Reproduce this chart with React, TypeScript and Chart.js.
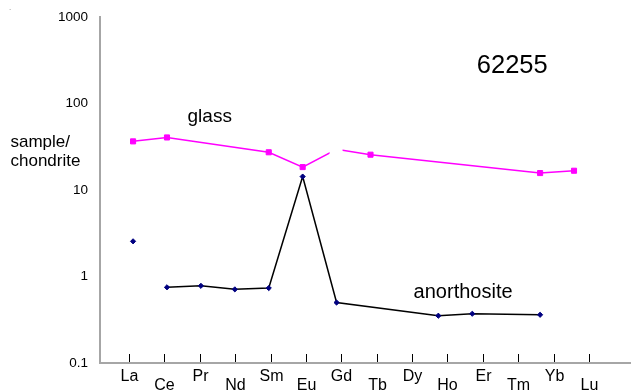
import React, { useEffect, useRef } from 'react';
import { Chart, registerables } from 'chart.js';

Chart.register(...registerables);

const FONT = '"Liberation Sans", Arial, sans-serif';

const elements = ['La', 'Ce', 'Pr', 'Nd', 'Sm', 'Eu', 'Gd', 'Tb', 'Dy', 'Ho', 'Er', 'Tm', 'Yb', 'Lu'];
const glass: (number | null)[] = [36.5, 40.5, null, null, 27.3, 18.4, 29.5, 25.6, null, null, null, null, 15.7, 16.7];
const anorthosite: (number | null)[] = [2.55, 0.75, 0.78, 0.71, 0.735, 14.3, 0.5, null, null, 0.352, 0.371, null, 0.361, null];
const yTicks = [0.1, 1, 10, 100, 1000];
const yTickLabels = ['0.1', '1', '10', '100', '1000'];
const sampleName = '62255';
const yTitle = ['sample/', 'chondrite'];
const glassGapIndex = 6;

const annotate = {
  id: 'annotate',
  afterDatasetsDraw(chart: any) {
    const ctx = chart.ctx;
    const meta = chart.getDatasetMeta(0);
    const p = meta.data[glassGapIndex];
    if (p) {
      ctx.save();
      ctx.fillStyle = '#ffffff';
      ctx.fillRect(p.x - 7, p.y - 6, 13, 12);
      ctx.restore();
    }
  },
  afterDraw(chart: any) {
    const ctx = chart.ctx;
    const xs = chart.scales.x;
    const ys = chart.scales.y;
    const xt = chart.scales.x2;
    const bottom = chart.chartArea.bottom;
    ctx.save();
    ctx.strokeStyle = '#000000';
    ctx.lineWidth = 1;
    ctx.fillStyle = '#000000';
    ctx.font = `16px ${FONT}`;
    ctx.textAlign = 'center';
    ctx.textBaseline = 'alphabetic';
    elements.forEach((el, i) => {
      const x = Math.round(xt.getPixelForValue(i)) + 0.5;
      ctx.beginPath();
      ctx.moveTo(x, bottom - 9);
      ctx.lineTo(x, bottom - 1);
      ctx.stroke();
      ctx.fillText(el, x, bottom + (i % 2 === 0 ? 18 : 26.5));
    });
    ctx.font = `19px ${FONT}`;
    ctx.fillText('glass', xs.getPixelForValue(2.26), ys.getPixelForValue(61.6));
    ctx.font = `20px ${FONT}`;
    ctx.fillText('anorthosite', xs.getPixelForValue(9.73), ys.getPixelForValue(0.564));
    ctx.font = `25.5px ${FONT}`;
    ctx.fillText(sampleName, xs.getPixelForValue(11.18), ys.getPixelForValue(225));
    ctx.textAlign = 'left';
    ctx.font = `17px ${FONT}`;
    ctx.fillText(yTitle[0], 10.5, 146.5);
    ctx.fillText(yTitle[1], 10.5, 166);
    ctx.fillStyle = '#777777';
    ctx.font = `8px ${FONT}`;
    ctx.fillText('.', 9, 10);
    ctx.restore();
  },
};

export default function App() {
  const ref = useRef<HTMLCanvasElement | null>(null);
  useEffect(() => {
    if (!ref.current) return;
    const chart = new Chart(ref.current, {
      type: 'line',
      data: {
        datasets: [
          {
            label: 'glass',
            data: glass.map((v, i) => ({ x: i, y: v })) as any,
            borderColor: '#ff00ff',
            backgroundColor: '#ff00ff',
            pointBackgroundColor: '#ff00ff',
            pointBorderColor: '#ff00ff',
            borderWidth: 1.5,
            pointStyle: 'rect',
            pointRadius: glass.map((_, i) => (i === glassGapIndex ? 0 : 3.6)),
            pointBorderWidth: 1,
            spanGaps: true,
            clip: false,
            xAxisID: 'x',
            yAxisID: 'y',
          },
          {
            label: 'anorthosite',
            data: anorthosite.map((v, i) => ({ x: i, y: v })) as any,
            borderColor: '#000000',
            backgroundColor: '#000080',
            pointBackgroundColor: '#000080',
            pointBorderColor: '#000080',
            borderWidth: 1.5,
            pointStyle: 'rectRot',
            pointRadius: 2.6,
            pointBorderWidth: 1,
            spanGaps: true,
            clip: false,
            segment: {
              borderColor: (ctx: any) => (ctx.p0DataIndex === 0 ? 'rgba(0,0,0,0)' : '#000000'),
            },
            xAxisID: 'x',
            yAxisID: 'y',
          },
        ],
      },
      options: {
        animation: false,
        responsive: true,
        maintainAspectRatio: false,
        events: [],
        layout: { autoPadding: false, padding: { top: 17, left: 0, right: 0, bottom: 0 } },
        plugins: { legend: { display: false }, tooltip: { enabled: false } },
        scales: {
          x: { type: 'linear', display: false, min: -0.975, max: 14.68 },
          x2: {
            type: 'linear',
            position: 'bottom',
            min: -0.82,
            max: 14.19,
            grid: { display: true, drawOnChartArea: false, drawTicks: false },
            ticks: { display: false },
            border: { display: true, color: '#a6a6a6', width: 2 },
            afterFit: (s: any) => {
              s.height = 27;
              s.paddingLeft = 0;
              s.paddingRight = 0;
            },
          },
          y: {
            type: 'logarithmic',
            min: 0.1,
            max: 1000,
            afterBuildTicks: (s: any) => {
              s.ticks = yTicks.map((v) => ({ value: v }));
            },
            ticks: {
              autoSkip: false,
              color: '#000000',
              padding: 12,
              font: { family: FONT, size: 13.5 },
              callback: (v: any) => {
                const idx = yTicks.indexOf(Number(v));
                return idx >= 0 ? yTickLabels[idx] : '';
              },
            },
            grid: { display: true, drawOnChartArea: false, drawTicks: false },
            border: { display: true, color: '#a6a6a6', width: 2 },
            afterFit: (s: any) => {
              s.width = 100;
              s.paddingTop = 0;
              s.paddingBottom = 0;
            },
          },
        },
      } as any,
      plugins: [annotate],
    });
    return () => chart.destroy();
  }, []);
  return (
    <div style={{ position: 'fixed', left: 0, top: 0, width: 631, height: 390, background: '#fff' }}>
      <canvas ref={ref} />
    </div>
  );
}
